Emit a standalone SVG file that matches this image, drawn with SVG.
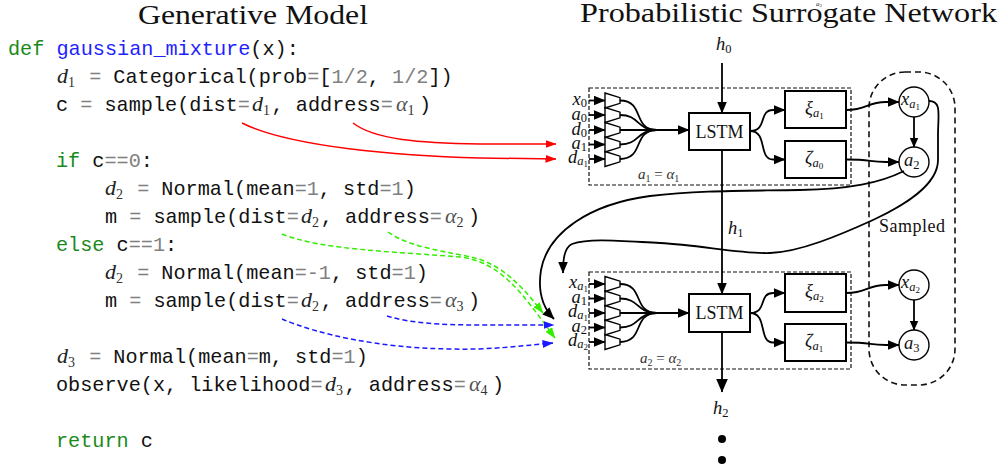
<svg xmlns="http://www.w3.org/2000/svg" width="1002" height="472" viewBox="0 0 1002 472">
<style>
.title{font-family:"Liberation Serif",serif;font-size:27px;fill:#111}
.code{font-family:"Liberation Mono",monospace;font-size:20.2px;fill:#111;white-space:pre}
.kw{fill:#1a8a1a}
.fn{fill:#1f1fff}
.g{fill:#808080}
.m{font-family:"Liberation Serif",serif;font-style:italic;font-size:22px;fill:#222}
.ma{font-family:"Liberation Serif",serif;font-style:italic;font-size:22px;fill:#555}
.ms{font-family:"Liberation Serif",serif;font-size:14px;fill:#333}
.lbl{font-family:"Liberation Serif",serif;font-style:italic;font-size:18.5px;fill:#111}
.sub{font-style:normal;font-size:12.5px}
.isub{font-style:italic;font-size:12.5px}
.sub2{font-style:normal;font-size:9px}
.rm{font-family:"Liberation Serif",serif;font-size:18px;fill:#111}
.box{fill:#fff;stroke:#000;stroke-width:2}
.frame{fill:none;stroke:#111;stroke-width:1.2;stroke-dasharray:4 2}
.samp{fill:none;stroke:#111;stroke-width:1.6;stroke-dasharray:6 4}
.circ{fill:#fff;stroke:#000;stroke-width:1.4}
.trap{fill:#fff;stroke:#000;stroke-width:1.4}
.w{fill:none;stroke:#000;stroke-width:1.8}
.wa{fill:none;stroke:#000;stroke-width:1.8;marker-end:url(#ak)}
.red{fill:none;stroke:#ff0000;stroke-width:1.5;marker-end:url(#ar)}
.grn{fill:none;stroke:#33ee00;stroke-width:1.5;stroke-dasharray:5 3;marker-end:url(#ag)}
.blu{fill:none;stroke:#1a1aff;stroke-width:1.5;stroke-dasharray:5 3;marker-end:url(#ab)}
.eq{font-family:"Liberation Serif",serif;font-size:15px;fill:#333}
</style>
<defs>
<marker id="ak" viewBox="0 0 12 10" refX="11.5" refY="5" markerWidth="12" markerHeight="10" markerUnits="userSpaceOnUse" orient="auto"><path d="M0,0 L12,5 L0,10 Z" fill="#000"/></marker>
<marker id="akL" viewBox="0 0 14 12" refX="13.5" refY="6" markerWidth="14" markerHeight="12" markerUnits="userSpaceOnUse" orient="auto"><path d="M0,0 L14,6 L0,12 Z" fill="#000"/></marker>
<marker id="aks" viewBox="0 0 10 9" refX="9.5" refY="4.5" markerWidth="10" markerHeight="9" markerUnits="userSpaceOnUse" orient="auto"><path d="M0,0 L10,4.5 L0,9 Z" fill="#000"/></marker>
<marker id="ar" viewBox="0 0 11 8" refX="10.5" refY="4" markerWidth="11" markerHeight="8" markerUnits="userSpaceOnUse" orient="auto"><path d="M0,0 L11,4 L0,8 Z" fill="#ff0000"/></marker>
<marker id="ag" viewBox="0 0 11 8" refX="10.5" refY="4" markerWidth="11" markerHeight="8" markerUnits="userSpaceOnUse" orient="auto"><path d="M0,0 L11,4 L0,8 Z" fill="#33ee00"/></marker>
<marker id="ab" viewBox="0 0 11 8" refX="10.5" refY="4" markerWidth="11" markerHeight="8" markerUnits="userSpaceOnUse" orient="auto"><path d="M0,0 L11,4 L0,8 Z" fill="#1a1aff"/></marker>
</defs>
<rect width="1002" height="472" fill="#fff"/>

<g id="titles">
<text class="title" x="138" y="24" textLength="230" lengthAdjust="spacingAndGlyphs">Generative Model</text>
<text class="title" x="580" y="22" textLength="417" lengthAdjust="spacingAndGlyphs">Probabilistic Surrogate Network</text>
<text x="816" y="6" font-family="Liberation Serif,serif" font-style="italic" font-size="7" fill="#333">a<tspan font-size="5" font-style="normal" dy="1">2</tspan></text>
</g>

<g id="code">
<text class="code" y="55" xml:space="preserve"><tspan x="8" class="kw">def</tspan> <tspan class="fn">gaussian_mixture</tspan>(x):</text>
<text class="code" y="83" xml:space="preserve"><tspan x="57" class="m">d</tspan><tspan class="ms" dy="4">1</tspan><tspan x="77" dy="-4"> </tspan><tspan class="g">=</tspan> Categorical(prob<tspan class="g">=</tspan>[<tspan class="g">1/2</tspan>, <tspan class="g">1/2</tspan>])</text>
<text class="code" y="111" xml:space="preserve"><tspan x="56">c </tspan><tspan class="g">=</tspan> sample(dist<tspan class="g">=</tspan><tspan x="252" class="m">d</tspan><tspan class="ms" dy="4">1</tspan><tspan x="271.6" dy="-4">, address</tspan><tspan class="g">=</tspan><tspan x="396" class="ma">α</tspan><tspan class="ms" dy="4">1</tspan><tspan x="419" dy="-4">)</tspan></text>
<text class="code" y="167" xml:space="preserve"><tspan x="56" class="kw">if</tspan> c<tspan class="g">==0</tspan>:</text>
<text class="code" y="195" xml:space="preserve"><tspan x="105" class="m">d</tspan><tspan class="ms" dy="4">2</tspan><tspan x="125" dy="-4"> </tspan><tspan class="g">=</tspan> Normal(mean<tspan class="g">=1</tspan>, std<tspan class="g">=1</tspan>)</text>
<text class="code" y="223" xml:space="preserve"><tspan x="105">m </tspan><tspan class="g">=</tspan> sample(dist<tspan class="g">=</tspan><tspan x="301" class="m">d</tspan><tspan class="ms" dy="4">2</tspan><tspan x="320.8" dy="-4">, address</tspan><tspan class="g">=</tspan><tspan x="445" class="ma">α</tspan><tspan class="ms" dy="4">2</tspan><tspan x="468" dy="-4">)</tspan></text>
<text class="code" y="251" xml:space="preserve"><tspan x="56" class="kw">else</tspan> c<tspan class="g">==1</tspan>:</text>
<text class="code" y="279" xml:space="preserve"><tspan x="105" class="m">d</tspan><tspan class="ms" dy="4">2</tspan><tspan x="125" dy="-4"> </tspan><tspan class="g">=</tspan> Normal(mean<tspan class="g">=-1</tspan>, std<tspan class="g">=1</tspan>)</text>
<text class="code" y="307" xml:space="preserve"><tspan x="105">m </tspan><tspan class="g">=</tspan> sample(dist<tspan class="g">=</tspan><tspan x="301" class="m">d</tspan><tspan class="ms" dy="4">2</tspan><tspan x="320.8" dy="-4">, address</tspan><tspan class="g">=</tspan><tspan x="445" class="ma">α</tspan><tspan class="ms" dy="4">3</tspan><tspan x="468" dy="-4">)</tspan></text>
<text class="code" y="363" xml:space="preserve"><tspan x="57" class="m">d</tspan><tspan class="ms" dy="4">3</tspan><tspan x="77" dy="-4"> </tspan><tspan class="g">=</tspan> Normal(mean<tspan class="g">=</tspan>m, std<tspan class="g">=1</tspan>)</text>
<text class="code" y="391" xml:space="preserve"><tspan x="56">observe(x, likelihood</tspan><tspan class="g">=</tspan><tspan x="325" class="m">d</tspan><tspan class="ms" dy="4">3</tspan><tspan x="344.6" dy="-4">, address</tspan><tspan class="g">=</tspan><tspan x="469" class="ma">α</tspan><tspan class="ms" dy="4">4</tspan><tspan x="492" dy="-4">)</tspan></text>
<text class="code" y="447" xml:space="preserve"><tspan x="56" class="kw">return</tspan> c</text>
</g>

<g id="frame-step1">
<rect class="frame" x="589" y="88" width="262" height="97"/>
<text class="eq" x="638" y="179"><tspan font-style="italic">a</tspan><tspan font-size="10" dy="3">1</tspan><tspan dy="-3"> = </tspan><tspan font-style="italic">α</tspan><tspan font-size="10" dy="3">1</tspan></text>
</g>
<g id="frame-step2">
<rect class="frame" x="589" y="272" width="262" height="97"/>
<text class="eq" x="640" y="363"><tspan font-style="italic">a</tspan><tspan font-size="10" dy="3">2</tspan><tspan dy="-3"> = </tspan><tspan font-style="italic">α</tspan><tspan font-size="10" dy="3">2</tspan></text>
</g>
<g id="sampled">
<rect class="samp" x="869" y="72" width="86" height="313" rx="36" ry="36"/>
<text class="rm" x="879" y="232" textLength="66" font-size="17">Sampled</text>
</g>

<g id="inputs-step1">
<text class="lbl" x="587" y="105" text-anchor="end">x<tspan class="sub" dy="2">0</tspan></text>
<text class="lbl" x="587" y="120" text-anchor="end">a<tspan class="sub" dy="2">0</tspan></text>
<text class="lbl" x="587" y="134.5" text-anchor="end">d<tspan class="sub" dy="2">0</tspan></text>
<text class="lbl" x="587" y="149" text-anchor="end">a<tspan class="sub" dy="2">1</tspan></text>
<text class="lbl" x="588" y="163" text-anchor="end">d<tspan class="isub" dy="2">a</tspan><tspan class="sub2" dy="1.5">1</tspan></text>
<path class="wa" d="M589,100.5 L605,100.5"/>
<path class="wa" d="M589,115 L605,115"/>
<path class="wa" d="M589,130 L605,130"/>
<path class="wa" d="M589,144.5 L605,144.5"/>
<path class="wa" d="M589,159 L605,159"/>
<polygon class="trap" points="605,93 620,97.7 620,103.3 605,108"/>
<polygon class="trap" points="605,107.5 620,112.2 620,117.8 605,122.5"/>
<polygon class="trap" points="605,122.5 620,127.2 620,132.8 605,137.5"/>
<polygon class="trap" points="605,137 620,141.7 620,147.3 605,152"/>
<polygon class="trap" points="605,151.5 620,156.2 620,161.8 605,166.5"/>
</g>
<g id="inputs-step2">
<text class="lbl" x="588" y="288" text-anchor="end">x<tspan class="isub" dy="2">a</tspan><tspan class="sub2" dy="1.5">1</tspan></text>
<text class="lbl" x="587" y="302.5" text-anchor="end">a<tspan class="sub" dy="2">1</tspan></text>
<text class="lbl" x="588" y="317" text-anchor="end">d<tspan class="isub" dy="2">a</tspan><tspan class="sub2" dy="1.5">1</tspan></text>
<text class="lbl" x="587" y="331.5" text-anchor="end">a<tspan class="sub" dy="2">2</tspan></text>
<text class="lbl" x="588" y="346" text-anchor="end">d<tspan class="isub" dy="2">a</tspan><tspan class="sub2" dy="1.5">2</tspan></text>
<path class="wa" d="M589,284 L605,284"/>
<path class="wa" d="M589,298.5 L605,298.5"/>
<path class="wa" d="M589,313 L605,313"/>
<path class="wa" d="M589,327.5 L605,327.5"/>
<path class="wa" d="M589,342 L605,342"/>
<polygon class="trap" points="605,276.5 620,281.2 620,286.8 605,291.5"/>
<polygon class="trap" points="605,291 620,295.7 620,301.3 605,306"/>
<polygon class="trap" points="605,305.5 620,310.2 620,315.8 605,320.5"/>
<polygon class="trap" points="605,320 620,324.7 620,330.3 605,335"/>
<polygon class="trap" points="605,334.5 620,339.2 620,344.8 605,349.5"/>
</g>

<g id="lstm1"><rect class="box" x="689" y="113" width="61" height="37"/><text class="rm" x="719.5" y="137.5" text-anchor="middle">LSTM</text></g>
<g id="xi1"><rect class="box" x="785" y="91" width="61" height="37"/><text class="lbl" x="805" y="114" font-size="20">ξ<tspan class="isub" dy="3">a</tspan><tspan class="sub2" dy="2">1</tspan></text></g>
<g id="zeta1"><rect class="box" x="785" y="141" width="61" height="37"/><text class="lbl" x="805" y="164" font-size="20">ζ<tspan class="isub" dy="3">a</tspan><tspan class="sub2" dy="2">0</tspan></text></g>
<g id="lstm2"><rect class="box" x="689" y="294" width="61" height="38"/><text class="rm" x="719.5" y="319" text-anchor="middle">LSTM</text></g>
<g id="xi2"><rect class="box" x="785" y="274" width="61" height="38"/><text class="lbl" x="805" y="297" font-size="20">ξ<tspan class="isub" dy="3">a</tspan><tspan class="sub2" dy="2">2</tspan></text></g>
<g id="zeta2"><rect class="box" x="785" y="324" width="61" height="37"/><text class="lbl" x="805" y="347" font-size="20">ζ<tspan class="isub" dy="3">a</tspan><tspan class="sub2" dy="2">1</tspan></text></g>

<g id="node-xa1"><circle class="circ" cx="914" cy="102" r="15"/><text class="lbl" x="901" y="105" font-size="18">x<tspan class="isub" font-size="11.5" dy="3">a</tspan><tspan class="sub2" font-size="8" dy="2">1</tspan></text></g>
<g id="node-a2"><circle class="circ" cx="914" cy="162" r="15"/><text class="lbl" x="904" y="166" font-size="18">a<tspan class="sub" font-size="12.5" dy="3">2</tspan></text></g>
<g id="node-xa2"><circle class="circ" cx="914" cy="285" r="15"/><text class="lbl" x="901" y="288" font-size="18">x<tspan class="isub" font-size="11.5" dy="3">a</tspan><tspan class="sub2" font-size="8" dy="2">2</tspan></text></g>
<g id="node-a3"><circle class="circ" cx="914" cy="345" r="15"/><text class="lbl" x="904" y="349" font-size="18">a<tspan class="sub" font-size="12.5" dy="3">3</tspan></text></g>

<g id="hidden-labels">
<text class="lbl" x="716" y="50">h<tspan class="sub" dy="3">0</tspan></text>
<text class="lbl" x="728" y="234">h<tspan class="sub" dy="3">1</tspan></text>
<text class="lbl" x="713" y="414">h<tspan class="sub" dy="3">2</tspan></text>
<circle cx="722" cy="439" r="4" fill="#000"/>
<circle cx="722" cy="460" r="4" fill="#000"/>
</g>

<g id="connectors">
<path class="w" d="M620,100.5 C645,100.5 632,130 657,130"/>
<path class="w" d="M620,115 C640,115 636,130 657,130"/>
<path class="w" d="M620,130 L657,130"/>
<path class="w" d="M620,144.5 C640,144.5 636,130 657,130"/>
<path class="w" d="M620,159 C645,159 632,130 657,130"/>
<path class="wa" d="M655,130 L689,130"/>
<path class="w" d="M620,284 C645,284 632,313 657,313"/>
<path class="w" d="M620,298.5 C640,298.5 636,313 657,313"/>
<path class="w" d="M620,313 L657,313"/>
<path class="w" d="M620,327.5 C640,327.5 636,313 657,313"/>
<path class="w" d="M620,342 C645,342 632,313 657,313"/>
<path class="wa" d="M655,313 L689,313"/>
<path class="wa" d="M750,131 C768,131 758,110 773,110 L785,110"/>
<path class="wa" d="M750,131 C768,131 758,159.5 773,159.5 L785,159.5"/>
<path class="wa" d="M750,313 C768,313 758,293 773,293 L785,293"/>
<path class="wa" d="M750,313 C768,313 758,342.5 773,342.5 L785,342.5"/>
<path class="wa" d="M846,110 C868,110 866,102 886,102 L899,102"/>
<path class="wa" d="M846,159.5 C872,159.5 868,162 886,162 L899,162"/>
<path class="wa" d="M846,293 C868,293 866,285 886,285 L899,285"/>
<path class="wa" d="M846,342.5 C872,342.5 868,345 886,345 L899,345"/>
<path class="w" d="M914,117 L914,147" marker-end="url(#aks)"/>
<path class="w" d="M914,300 L914,330" marker-end="url(#aks)"/>
<path class="w" stroke-width="2.2" d="M722,63 L722,113" marker-end="url(#ak)"/>
<path class="w" stroke-width="1.5" d="M722,150 L722,294" marker-end="url(#ak)"/>
<path class="w" stroke-width="2.6" d="M722,332 L722,392" marker-end="url(#akL)"/>
<path class="wa" d="M904,171 C880,183 850,189 800,190 C750,191 700,190 650,196 C590,204 548,232 541,270 C537,295 545,310 554,319"/>
<path class="wa" d="M929,101 C942,101 938,115 938,135 L938,160 C938,185 905,205 873,220 C840,235 800,252 770,253 C740,254 700,245 660,243 C620,241 590,238 572,244 C564,248 563,260 563,273"/>
<path class="red" d="M353,123 C375,140 420,143 480,144 L556,144"/>
<path class="red" d="M242,123 C290,147 400,156 480,158 L556,159"/>
<path class="grn" d="M282,234 C320,250 400,252 460,257 C500,262 520,290 555,338"/>
<path class="grn" d="M388,232 C410,248 450,252 475,258 C505,266 525,290 543,313"/>
<path class="blu" d="M387,316 C410,323 440,325 480,325 L554,325"/>
<path class="blu" d="M282,319 C320,335 380,348 450,349 C490,350 520,346 553,343"/>
</g>
</svg>
